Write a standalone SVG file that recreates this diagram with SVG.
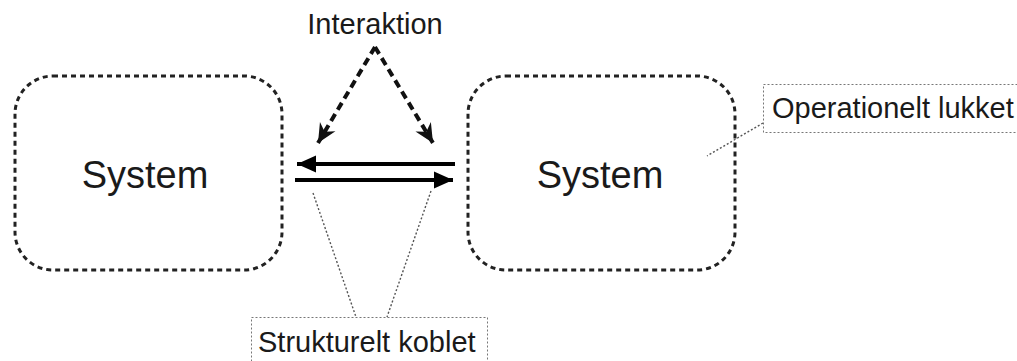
<svg xmlns="http://www.w3.org/2000/svg" width="1017" height="361" viewBox="0 0 1017 361">
  <style>
    .sys { fill: none; stroke: #222; stroke-width: 3; stroke-dasharray: 5 4; }
    .label { font-family: "Liberation Sans", Arial, sans-serif; fill: #1a1a1a; }
    .big { font-size: 38px; }
    .small { font-size: 29px; }
    .note { fill: none; stroke: #777; stroke-width: 1; stroke-dasharray: 2 2; }
    .leader { fill: none; stroke: #555; stroke-width: 1.4; stroke-dasharray: 2 2; }
    .flow { fill: none; stroke: #000; stroke-width: 4; }
    .interact { fill: none; stroke: #111; stroke-width: 4; stroke-dasharray: 8 5; }
  </style>
  <defs>
    <marker id="solidHead" markerUnits="userSpaceOnUse" markerWidth="22" markerHeight="20" viewBox="-20 -9 22 18" refX="0" refY="0" orient="auto">
      <path d="M0,0 L-19,-8.5 L-19,8.5 Z" fill="#000"/>
    </marker>
    <marker id="barbHead" markerUnits="userSpaceOnUse" markerWidth="22" markerHeight="22" viewBox="-20 -11 22 22" refX="0" refY="0" orient="auto">
      <path d="M0,0 L-19,-9 L-13,0 L-19,9 Z" fill="#111"/>
    </marker>
  </defs>

  <rect width="1017" height="361" fill="#fff"/>

  <g id="system-left">
    <rect class="sys" x="15" y="76" width="267" height="194" rx="38" ry="38"/>
    <text class="label big" x="145" y="188" text-anchor="middle">System</text>
  </g>

  <g id="system-right">
    <rect class="sys" x="468" y="76" width="267" height="194" rx="38" ry="38"/>
    <text class="label big" x="600" y="188" text-anchor="middle">System</text>
  </g>

  <g id="interaktion">
    <text class="label small" x="375" y="34" text-anchor="middle">Interaktion</text>
  </g>

  <g id="operationelt-lukket">
    <rect class="note" x="763.5" y="84.5" width="260" height="48"/>
    <text class="label small" x="772" y="118">Operationelt lukket</text>
  </g>

  <g id="strukturelt-koblet">
    <rect class="note" x="251.5" y="317.5" width="236" height="50"/>
    <text class="label small" x="258" y="352">Strukturelt koblet</text>
  </g>

  <g id="connectors">
    <!-- interaction, dashed -->
    <line class="interact" x1="375" y1="47" x2="318" y2="143" marker-end="url(#barbHead)"/>
    <line class="interact" x1="375" y1="47" x2="433" y2="143" marker-end="url(#barbHead)"/>
    <!-- structural coupling, solid -->
    <line class="flow" x1="455" y1="164" x2="297" y2="164" marker-end="url(#solidHead)"/>
    <line class="flow" x1="295" y1="180" x2="453" y2="180" marker-end="url(#solidHead)"/>
    <!-- annotation leaders -->
    <line class="leader" x1="763" y1="123" x2="707" y2="156"/>
    <line class="leader" x1="313" y1="193" x2="356" y2="317"/>
    <line class="leader" x1="431" y1="191" x2="387" y2="317"/>
  </g>
</svg>
